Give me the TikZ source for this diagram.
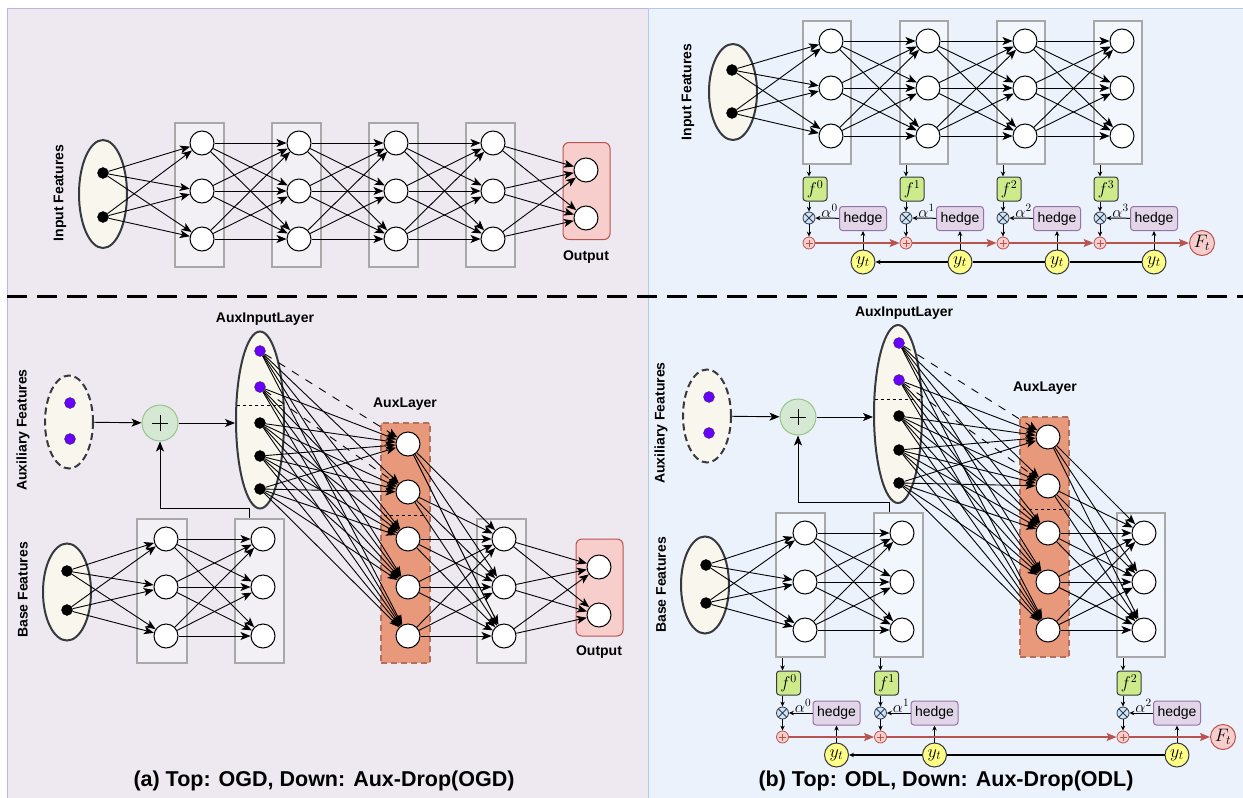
\RequirePackage{fix-cm}
\documentclass[tikz,border=0pt]{standalone}
\usepackage[no-math]{fontspec}
\setmainfont{Liberation Sans}
\usetikzlibrary{arrows.meta}
\usetikzlibrary{shapes.geometric}

\definecolor{leftbg}{HTML}{EEE9F1}
\definecolor{leftline}{HTML}{C2B4D9}
\definecolor{rightbg}{HTML}{ECF2FC}
\definecolor{rightline}{HTML}{B3C9EB}
\definecolor{cream}{HTML}{F9F7ED}
\definecolor{darkline}{HTML}{36393D}
\definecolor{auxpurple}{HTML}{6A00FF}
\definecolor{boxgray}{HTML}{A8A8A8}
\definecolor{outfill}{HTML}{F8CECC}
\definecolor{outred}{HTML}{B85450}
\definecolor{auxfill}{HTML}{E9997B}
\definecolor{auxline}{HTML}{B0705C}
\definecolor{sumfill}{HTML}{D5E8D4}
\definecolor{sumline}{HTML}{97C487}
\definecolor{ffill}{HTML}{CDEB8B}
\definecolor{mulfill}{HTML}{CCE5FF}
\definecolor{hfill}{HTML}{E1D5E7}
\definecolor{hline}{HTML}{9673A6}
\definecolor{yfill}{HTML}{FFFF88}

\begin{document}
\begin{tikzpicture}[x=1pt,y=-1pt,
    neuron/.style={circle,draw,fill=white,line width=1pt,minimum size=24pt,inner sep=0pt},
    fdot/.style={circle,draw=black,fill=black,minimum size=11pt,inner sep=0pt},
    auxdot/.style={circle,draw=darkline,fill=auxpurple,minimum size=11pt,inner sep=0pt},
    feat/.style={ellipse,draw=darkline,fill=cream,line width=2pt,minimum width=48pt,inner sep=0pt},
    featdash/.style={feat,dash pattern=on 7pt off 4pt},
    layerbox/.style={rectangle,draw=boxgray,line width=2pt,fill=white,fill opacity=0.35,minimum width=49pt,minimum height=144pt,inner sep=0pt},
    auxbox/.style={rectangle,draw=auxline,fill=auxfill,line width=2pt,dash pattern=on 6pt off 4pt,minimum width=49pt,minimum height=240pt,inner sep=0pt},
    outbox/.style={rectangle,rounded corners=6pt,draw=outred,fill=outfill,line width=1pt,minimum width=47pt,minimum height=97pt,inner sep=0pt},
    sumnode/.style={circle,draw=sumline,fill=sumfill,line width=1pt,minimum size=36pt,inner sep=0pt,
        path picture={\draw[black,line width=0.8pt] ([xshift=-8pt]path picture bounding box.center) -- ([xshift=8pt]path picture bounding box.center)
            ([yshift=-8pt]path picture bounding box.center) -- ([yshift=8pt]path picture bounding box.center);}},
    mulnode/.style={circle,draw=darkline,fill=mulfill,line width=0.8pt,minimum size=12pt,inner sep=0pt,
        path picture={\draw[darkline,line width=0.8pt] (path picture bounding box.north west) -- (path picture bounding box.south east)
            (path picture bounding box.north east) -- (path picture bounding box.south west);}},
    addnode/.style={circle,draw=outred,fill=outfill,line width=0.8pt,minimum size=12pt,inner sep=0pt,
        path picture={\draw[outred,line width=0.7pt] ([xshift=-3.5pt]path picture bounding box.center) -- ([xshift=3.5pt]path picture bounding box.center)
            ([yshift=-3.5pt]path picture bounding box.center) -- ([yshift=3.5pt]path picture bounding box.center);}},
    fbox/.style={rectangle,rounded corners=3pt,draw=darkline,fill=ffill,line width=1pt,minimum size=24pt,inner sep=0pt,font=\fontsize{17}{19}\selectfont},
    hedgebox/.style={rectangle,rounded corners=3pt,draw=hline,fill=hfill,line width=1pt,minimum width=47pt,minimum height=24pt,inner sep=0pt,font=\fontsize{14}{16}\selectfont},
    ynode/.style={circle,draw=darkline,fill=yfill,line width=1pt,minimum size=24pt,inner sep=0pt,font=\fontsize{18}{20}\selectfont},
    Fnode/.style={circle,draw=outred,fill=outfill,line width=1pt,minimum size=25pt,inner sep=0pt,font=\fontsize{18}{20}\selectfont},
    lbl/.style={font=\fontsize{14}{16}\selectfont\bfseries},
    mathlbl/.style={font=\fontsize{16}{18}\selectfont,inner sep=0.5pt},
    conn/.style={-{Stealth[length=10pt,width=8pt,inset=2.5pt]},line width=0.9pt},
    smallarr/.style={-{Stealth[length=5pt,width=4.5pt]},line width=1pt},
    redarr/.style={-{Stealth[length=10pt,width=8pt,inset=2pt]},draw=outred,line width=1.5pt},
    ]
    \useasboundingbox (0,0) rectangle (1243,798);

    % panels
    \fill[white] (0,0) rectangle (1243,798);
    \draw[fill=leftbg,draw=leftline,line width=1pt] (7,8) rectangle (648,810);
    \draw[fill=rightbg,draw=rightline,line width=1pt] (648,8) rectangle (1250,810);
    \draw[line width=3pt,dash pattern=on 20pt off 10pt] (7,296) -- (1243,296);

    % captions
    \node[font=\fontsize{21.5}{24}\selectfont\bfseries] (cap-a) at (324,781) {(a) Top: OGD, Down: Aux-Drop(OGD)};
    \node[font=\fontsize{21.5}{24}\selectfont\bfseries] (cap-b) at (946,781) {(b) Top: ODL, Down: Aux-Drop(ODL)};

    %%%%%%%%%% top left: OGD
    \node[feat,minimum height=108pt] (tl-in) at (103,194) {};
    \node[fdot] (tl-x1) at (103,173) {};
    \node[fdot] (tl-x2) at (103,217) {};
    \node[lbl,rotate=90] (tl-lbl) at (60,193) {Input Features};

    \foreach \i/\x in {1/199,2/296,3/393,4/490}
        \node[layerbox] (tl-b\i) at (\x,195) {};
    \foreach \i/\x in {1/202,2/299,3/396,4/493}
        \foreach \j/\y in {1/143,2/191,3/239}
            \node[neuron] (tl-n\i\j) at (\x,\y) {};

    \node[outbox] (tl-out) at (586.5,191) {};
    \node[neuron] (tl-o1) at (586,170) {};
    \node[neuron] (tl-o2) at (586,218) {};
    \node[lbl] (tl-outlbl) at (586,257) {Output};

    % edges
    \foreach \k in {1,2}
        \foreach \j in {1,2,3}
            \draw[conn] (tl-x\k) -- (tl-n1\j);
    \foreach \i/\ii in {1/2,2/3,3/4}
        \foreach \j in {1,2,3}
            \foreach \k in {1,2,3}
                \draw[conn] (tl-n\i\j) -- (tl-n\ii\k);
    \foreach \j in {1,2,3}
        \foreach \k in {1,2}
            \draw[conn] (tl-n4\j) -- (tl-o\k);

    %%%%%%%%%% top right: ODL
    \node[feat,minimum height=96pt] (tr-in) at (733,92) {};
    \node[fdot] (tr-x1) at (732,70) {};
    \node[fdot] (tr-x2) at (732,113) {};
    \node[lbl,rotate=90] (tr-lbl) at (688,92) {Input Features};

    \foreach \i/\x in {1/827,2/924,3/1021,4/1118}
        \node[layerbox,minimum height=143pt,minimum width=48pt] (tr-b\i) at (\x,92.5) {};
    \foreach \i/\x in {1/831,2/928,3/1025,4/1122}
        \foreach \j/\y in {1/41,2/88,3/136}
            \node[neuron] (tr-n\i\j) at (\x,\y) {};

    % edges
    \foreach \k in {1,2}
        \foreach \j in {1,2,3}
            \draw[conn] (tr-x\k) -- (tr-n1\j);
    \foreach \i/\ii in {1/2,2/3,3/4}
        \foreach \j in {1,2,3}
            \foreach \k in {1,2,3}
                \draw[conn] (tr-n\i\j) -- (tr-n\ii\k);

    % hedge outputs
    \foreach \i/\c/\s in {1/827/0,2/924/1,3/1021/2,4/1118/3} {
        \node[fbox] (tr-f\i) at ({\c-12},189) {$f^{\s}$};
        \node[mulnode] (tr-t\i) at ({\c-18},218) {};
        \node[hedgebox] (tr-h\i) at ({\c+36},218.5) {hedge};
        \node[addnode] (tr-p\i) at ({\c-18},243) {};
        \node[ynode] (tr-y\i) at ({\c+36},262) {$y_t$};
        \draw[smallarr] (tr-b\i.south -| tr-t\i) -- (tr-f\i.north -| tr-t\i);
        \draw[smallarr] (tr-f\i.south -| tr-t\i) -- (tr-t\i);
        \draw[smallarr] (tr-t\i) -- (tr-p\i);
        \draw[smallarr] (tr-h\i) -- node[mathlbl,above,pos=0.4] {$\alpha^{\s}$} (tr-t\i);
        \draw[smallarr] (tr-y\i) -- (tr-h\i);
    }
    \node[Fnode] (tr-F) at (1202,243) {$F_t$};
    \foreach \i/\ii in {1/2,2/3,3/4}
        \draw[redarr] (tr-p\i) -- (tr-p\ii);
    \draw[redarr] (tr-p4) -- (tr-F);
    \draw[line width=1.2pt] (tr-y4) -- (tr-y3);
    \draw[line width=1.2pt] (tr-y3) -- (tr-y2);
    \draw[smallarr,line width=1.2pt] (tr-y2) -- (tr-y1);

    %%%%%%%%%% bottom left: Aux-Drop(OGD)
    \node[featdash,minimum height=93pt] (bl-auxf) at (69,422) {};
    \node[auxdot] (bl-z1) at (70,403) {};
    \node[auxdot] (bl-z2) at (70,439) {};
    \node[lbl,rotate=90] (bl-auxlbl) at (23,430) {Auxiliary Features};

    \node[sumnode] (bl-sum) at (160,423) {};

    \node[feat,minimum height=177pt] (bl-auxin) at (260,420) {};
    \node[lbl] (bl-auxinlbl) at (265,319) {AuxInputLayer};
    \draw[dashed,line width=0.8pt] (236.5,405) -- (283.5,405);
    \foreach \j/\y/\st in {1/351/auxdot,2/387/auxdot,3/423/fdot,4/456/fdot,5/489/fdot}
        \node[\st] (bl-a\j) at (260,\y) {};

    \node[feat,minimum height=97pt] (bl-base) at (67,592) {};
    \node[fdot] (bl-x1) at (67,571) {};
    \node[fdot] (bl-x2) at (67,610) {};
    \node[lbl,rotate=90] (bl-baselbl) at (23,590) {Base Features};

    \node[layerbox,minimum width=50pt] (bl-b1) at (162,591) {};
    \node[layerbox] (bl-b2) at (259.5,591) {};
    \node[layerbox] (bl-b3) at (501.5,591) {};
    \foreach \i/\x in {1/166,2/263,3/504}
        \foreach \j/\y in {1/539,2/587,3/636}
            \node[neuron] (bl-n\i\j) at (\x,\y) {};

    \node[auxbox] (bl-al) at (405.5,543) {};
    \node[lbl] (bl-allbl) at (405,404) {AuxLayer};
    \draw[dashed,line width=0.8pt] (384,515) -- (427,515);
    \foreach \j/\y in {1/444,2/492,3/539,4/587,5/636}
        \node[neuron] (bl-m\j) at (408,\y) {};

    \node[outbox] (bl-out) at (599.5,587.5) {};
    \node[neuron] (bl-o1) at (599,567) {};
    \node[neuron] (bl-o2) at (599,615) {};
    \node[lbl] (bl-outlbl) at (599,652) {Output};

    % edges
    \draw[conn] (bl-auxf) -- (bl-sum);
    \draw[conn] (bl-sum.east) -- (bl-auxin.west |- bl-sum.east);
    \coordinate (bl-turn) at (249,508);
    \draw[conn] (bl-b2.north -| bl-turn) -- (bl-turn) -| (bl-sum.south);
    \foreach \k in {1,2}
        \foreach \j in {1,2,3}
            \draw[conn] (bl-x\k) -- (bl-n1\j);
    \foreach \j in {1,2,3}
        \foreach \k in {1,2,3}
            \draw[conn] (bl-n1\j) -- (bl-n2\k);
    \foreach \j in {1,...,5}
        \foreach \k in {1,...,5} {
            \ifnum\j=\k \ifnum\j<3
                \draw[conn,dash pattern=on 8pt off 8pt] (bl-a\j) -- (bl-m\k);
            \else
                \draw[conn] (bl-a\j) -- (bl-m\k);
            \fi \else
                \draw[conn] (bl-a\j) -- (bl-m\k);
            \fi
        }
    \foreach \j in {1,...,5}
        \foreach \k in {1,2,3}
            \draw[conn] (bl-m\j) -- (bl-n3\k);
    \foreach \j in {1,2,3}
        \foreach \k in {1,2}
            \draw[conn] (bl-n3\j) -- (bl-o\k);

    %%%%%%%%%% bottom right: Aux-Drop(ODL)
    \node[featdash,minimum height=93pt] (br-auxf) at (707,416) {};
    \node[auxdot] (br-z1) at (709,397) {};
    \node[auxdot] (br-z2) at (709,433) {};
    \node[lbl,rotate=90] (br-auxlbl) at (661,423) {Auxiliary Features};

    \node[sumnode] (br-sum) at (798,417) {};

    \node[feat,minimum height=178pt] (br-auxin) at (898,414) {};
    \node[lbl] (br-auxinlbl) at (904,313) {AuxInputLayer};
    \draw[dashed,line width=0.8pt] (874.5,399) -- (921.5,399);
    \foreach \j/\y/\st in {1/343/auxdot,2/380/auxdot,3/416/fdot,4/450/fdot,5/483/fdot}
        \node[\st] (br-a\j) at (899,\y) {};

    \node[feat,minimum height=97pt] (br-base) at (705,585) {};
    \node[fdot] (br-x1) at (706,565) {};
    \node[fdot] (br-x2) at (706,603) {};
    \node[lbl,rotate=90] (br-baselbl) at (661,585) {Base Features};

    \node[layerbox] (br-b1) at (800.5,585) {};
    \node[layerbox] (br-b2) at (898.5,585) {};
    \node[layerbox,minimum width=48pt] (br-b3) at (1141,585) {};
    \foreach \i/\x in {1/805,2/902,3/1144}
        \foreach \j/\y in {1/533,2/582,3/630}
            \node[neuron] (br-n\i\j) at (\x,\y) {};

    \node[auxbox] (br-al) at (1044.5,537) {};
    \node[lbl] (br-allbl) at (1045,388) {AuxLayer};
    \draw[dashed,line width=0.8pt] (1023,509) -- (1066,509);
    \foreach \j/\y in {1/437,2/486,3/533,4/582,5/630}
        \node[neuron] (br-m\j) at (1048,\y) {};

    % edges
    \draw[conn] (br-auxf) -- (br-sum);
    \draw[conn] (br-sum.east) -- (br-auxin.west |- br-sum.east);
    \coordinate (br-turn) at (889,502);
    \draw[conn] (br-b2.north -| br-turn) -- (br-turn) -| (br-sum.south);
    \foreach \k in {1,2}
        \foreach \j in {1,2,3}
            \draw[conn] (br-x\k) -- (br-n1\j);
    \foreach \j in {1,2,3}
        \foreach \k in {1,2,3}
            \draw[conn] (br-n1\j) -- (br-n2\k);
    \foreach \j in {1,...,5}
        \foreach \k in {1,...,5} {
            \ifnum\j=\k \ifnum\j<3
                \draw[conn,dash pattern=on 8pt off 8pt] (br-a\j) -- (br-m\k);
            \else
                \draw[conn] (br-a\j) -- (br-m\k);
            \fi \else
                \draw[conn] (br-a\j) -- (br-m\k);
            \fi
        }
    \foreach \j in {1,...,5}
        \foreach \k in {1,2,3}
            \draw[conn] (br-m\j) -- (br-n3\k);

    % hedge outputs
    \foreach \i/\c/\s in {1/800.5/0,2/898.5/1,3/1141/2} {
        \node[fbox] (br-f\i) at ({\c-12},683) {$f^{\s}$};
        \node[mulnode] (br-t\i) at ({\c-18},713) {};
        \node[hedgebox] (br-h\i) at ({\c+36},713) {hedge};
        \node[addnode] (br-p\i) at ({\c-18},737) {};
        \node[ynode] (br-y\i) at ({\c+36},755) {$y_t$};
        \draw[smallarr] (br-b\i.south -| br-t\i) -- (br-f\i.north -| br-t\i);
        \draw[smallarr] (br-f\i.south -| br-t\i) -- (br-t\i);
        \draw[smallarr] (br-t\i) -- (br-p\i);
        \draw[smallarr] (br-h\i) -- node[mathlbl,above,pos=0.4] {$\alpha^{\s}$} (br-t\i);
        \draw[smallarr] (br-y\i) -- (br-h\i);
    }
    \node[Fnode] (br-F) at (1223,737) {$F_t$};
    \draw[redarr] (br-p1) -- (br-p2);
    \draw[redarr] (br-p2) -- (br-p3);
    \draw[redarr] (br-p3) -- (br-F);
    \draw[line width=1.2pt] (br-y3) -- (br-y2);
    \draw[smallarr,line width=1.2pt] (br-y2) -- (br-y1);
\end{tikzpicture}
\end{document}
